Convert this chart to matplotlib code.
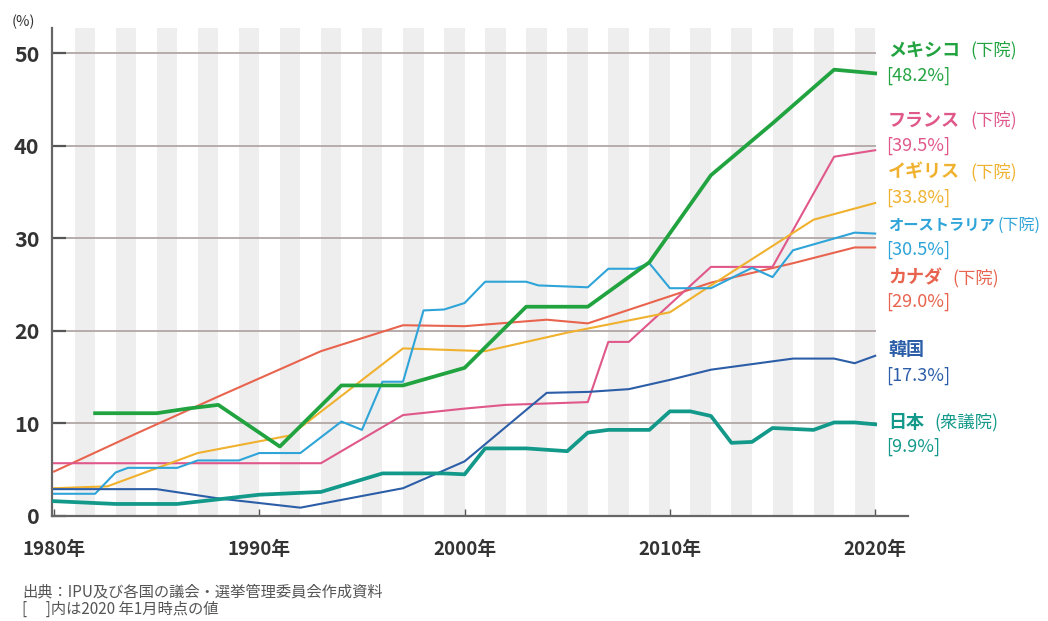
import matplotlib
matplotlib.use("Agg")
import matplotlib.pyplot as plt

plt.rcParams['font.family'] = ['Noto Sans CJK JP', 'DejaVu Sans']

# ---- data (women's share of seats, %) ----
mexico_years = [1982, 1985, 1986.5, 1988, 1991, 1994, 1997, 2000, 2003, 2006, 2009, 2012, 2015, 2018, 2020]
mexico_vals = [11.1, 11.1, 11.6, 12.0, 7.5, 14.1, 14.1, 16.0, 22.6, 22.6, 27.4, 36.8, 42.4, 48.2, 47.8]

france_years = [1980, 1993, 1997, 2000, 2002, 2006, 2007, 2008, 2012, 2015, 2018, 2020]
france_vals = [5.7, 5.7, 10.9, 11.6, 12.0, 12.3, 18.8, 18.8, 26.9, 26.9, 38.8, 39.5]

uk_years = [1980, 1982.6, 1987, 1991.5, 1997, 2001, 2005, 2010, 2012, 2017, 2020]
uk_vals = [3.0, 3.2, 6.8, 8.7, 18.1, 17.8, 19.8, 22.0, 24.9, 32.0, 33.8]

aus_years = [1980, 1982, 1983, 1983.6, 1986, 1987, 1989, 1990, 1992, 1994, 1995, 1996, 1997,
             1998, 1999, 2000, 2001, 2003, 2003.6, 2006, 2007, 2008.3, 2009, 2010, 2012,
             2014, 2015, 2016, 2019, 2020]
aus_vals = [2.4, 2.4, 4.7, 5.2, 5.2, 6.0, 6.0, 6.8, 6.8, 10.2, 9.3, 14.5, 14.5,
            22.2, 22.3, 23.0, 25.3, 25.3, 24.9, 24.7, 26.7, 26.7, 27.3, 24.6, 24.6,
            26.8, 25.8, 28.7, 30.6, 30.5]

canada_years = [1980, 1984, 1988, 1993, 1997, 2000, 2004, 2006, 2012, 2016, 2019, 2020]
canada_vals = [4.8, 8.9, 12.9, 17.8, 20.6, 20.5, 21.2, 20.8, 25.2, 27.3, 29.0, 29.0]

korea_years = [1980, 1985, 1988, 1992, 1997, 2000, 2004, 2006, 2008, 2010, 2012, 2016, 2018, 2019, 2020]
korea_vals = [2.9, 2.9, 1.9, 0.9, 3.0, 5.9, 13.3, 13.4, 13.7, 14.7, 15.8, 17.0, 17.0, 16.5, 17.3]

japan_years = [1980, 1983, 1986, 1988, 1990, 1993, 1996, 1999, 2000, 2001, 2003, 2005, 2006,
               2007, 2009, 2010, 2011, 2012, 2013, 2014, 2015, 2017, 2018, 2019, 2020]
japan_vals = [1.6, 1.3, 1.3, 1.8, 2.3, 2.6, 4.6, 4.6, 4.5, 7.3, 7.3, 7.0, 9.0,
              9.3, 9.3, 11.3, 11.3, 10.8, 7.9, 8.0, 9.5, 9.3, 10.1, 10.1, 9.9]

series = [
    # years, values, colour, width, name, chamber, label
    (canada_years, canada_vals, '#e8644e', 1.5, 'カナダ', '(下院)', '[29.0%]'),
    (france_years, france_vals, '#e0588a', 1.5, 'フランス', '(下院)', '[39.5%]'),
    (uk_years, uk_vals, '#f0b12e', 1.5, 'イギリス', '(下院)', '[33.8%]'),
    (aus_years, aus_vals, '#2ea4d8', 1.5, 'オーストラリア', '(下院)', '[30.5%]'),
    (korea_years, korea_vals, '#2c5ea8', 1.5, '韓国', '', '[17.3%]'),
    (japan_years, japan_vals, '#12998a', 2.7, '日本', '(衆議院)', '[9.9%]'),
    (mexico_years, mexico_vals, '#21a340', 2.7, 'メキシコ', '(下院)', '[48.2%]'),
]

# label rows (pixel y of name line, value line)
label_rows = {
    'メキシコ': (50, 76), 'フランス': (120, 146), 'イギリス': (172, 198),
    'オーストラリア': (225, 250), 'カナダ': (278, 302), '韓国': (350, 376), '日本': (422, 447),
}

W, H = 1048, 621
fig = plt.figure(figsize=(W / 100, H / 100), dpi=100)
ax = fig.add_axes([52 / W, 1 - 516 / H, (908 - 52) / W, (516 - 28) / H])

ax.set_xlim(1979.9, 2021.6)
ax.set_ylim(0, 52.7)

# alternating year stripes
for yr in range(1981, 2020, 2):
    ax.axvspan(yr, yr + 1, color='#eeeeee', lw=0, zorder=0)

# horizontal grid lines
for v in [10, 20, 30, 40, 50]:
    ax.plot([1979.9, 2020], [v, v], color='#b6acac', lw=1.4, zorder=1)

for years, vals, col, lw, name, chamber, lab in series:
    ax.plot(years, vals, color=col, lw=lw, zorder=3, solid_joinstyle='round')

for s in ['top', 'right']:
    ax.spines[s].set_visible(False)
for s in ['left', 'bottom']:
    ax.spines[s].set_color('#666666')
    ax.spines[s].set_linewidth(1.6)

ax.set_yticks([0, 10, 20, 30, 40, 50])
ax.set_yticklabels(['0', '10', '20', '30', '40', '50'])
ax.set_xticks([1980, 1990, 2000, 2010, 2020])
ax.set_xticklabels(['1980年', '1990年', '2000年', '2010年', '2020年'])
ax.tick_params(axis='y', direction='in', length=10, width=1.6, color='#555555',
               labelsize=15.5, labelcolor='#333333', pad=9)
ax.tick_params(axis='x', direction='in', length=5, width=1, color='#555555',
               labelsize=13.5, labelcolor='#333333', pad=17)
for t in ax.get_xticklabels() + ax.get_yticklabels():
    t.set_fontweight('bold')

fig.text(12 / W, 1 - 22 / H, '(%)', fontsize=10.5, color='#333333', va='center', ha='left')

# right side labels
fig.canvas.draw()
renderer = fig.canvas.get_renderer()
for years, vals, col, lw, name, chamber, lab in series:
    y1, y2 = label_rows[name]
    long_name = len(name) > 5
    t = fig.text(888 / W, 1 - y1 / H, name, fontsize=11 if long_name else 13,
                 fontweight='bold', color=col, va='center', ha='left')
    if chamber:
        bb = t.get_window_extent(renderer)
        gap = 3 if long_name else 10
        fig.text((bb.x1 + gap) / W, 1 - y1 / H, chamber, fontsize=11.5 if long_name else 12.5,
                 color=col, va='center', ha='left')
    fig.text(886 / W, 1 - y2 / H, lab, fontsize=13, color=col, va='center', ha='left')

fig.text(22 / W, 1 - 592 / H, '出典：IPU及び各国の議会・選挙管理委員会作成資料',
         fontsize=11, color='#555555', va='center', ha='left')
fig.text(22 / W, 1 - 609 / H, '[　 ]内は2020 年1月時点の値',
         fontsize=11, color='#555555', va='center', ha='left')

fig.savefig('out.png', dpi=100, facecolor='white')
